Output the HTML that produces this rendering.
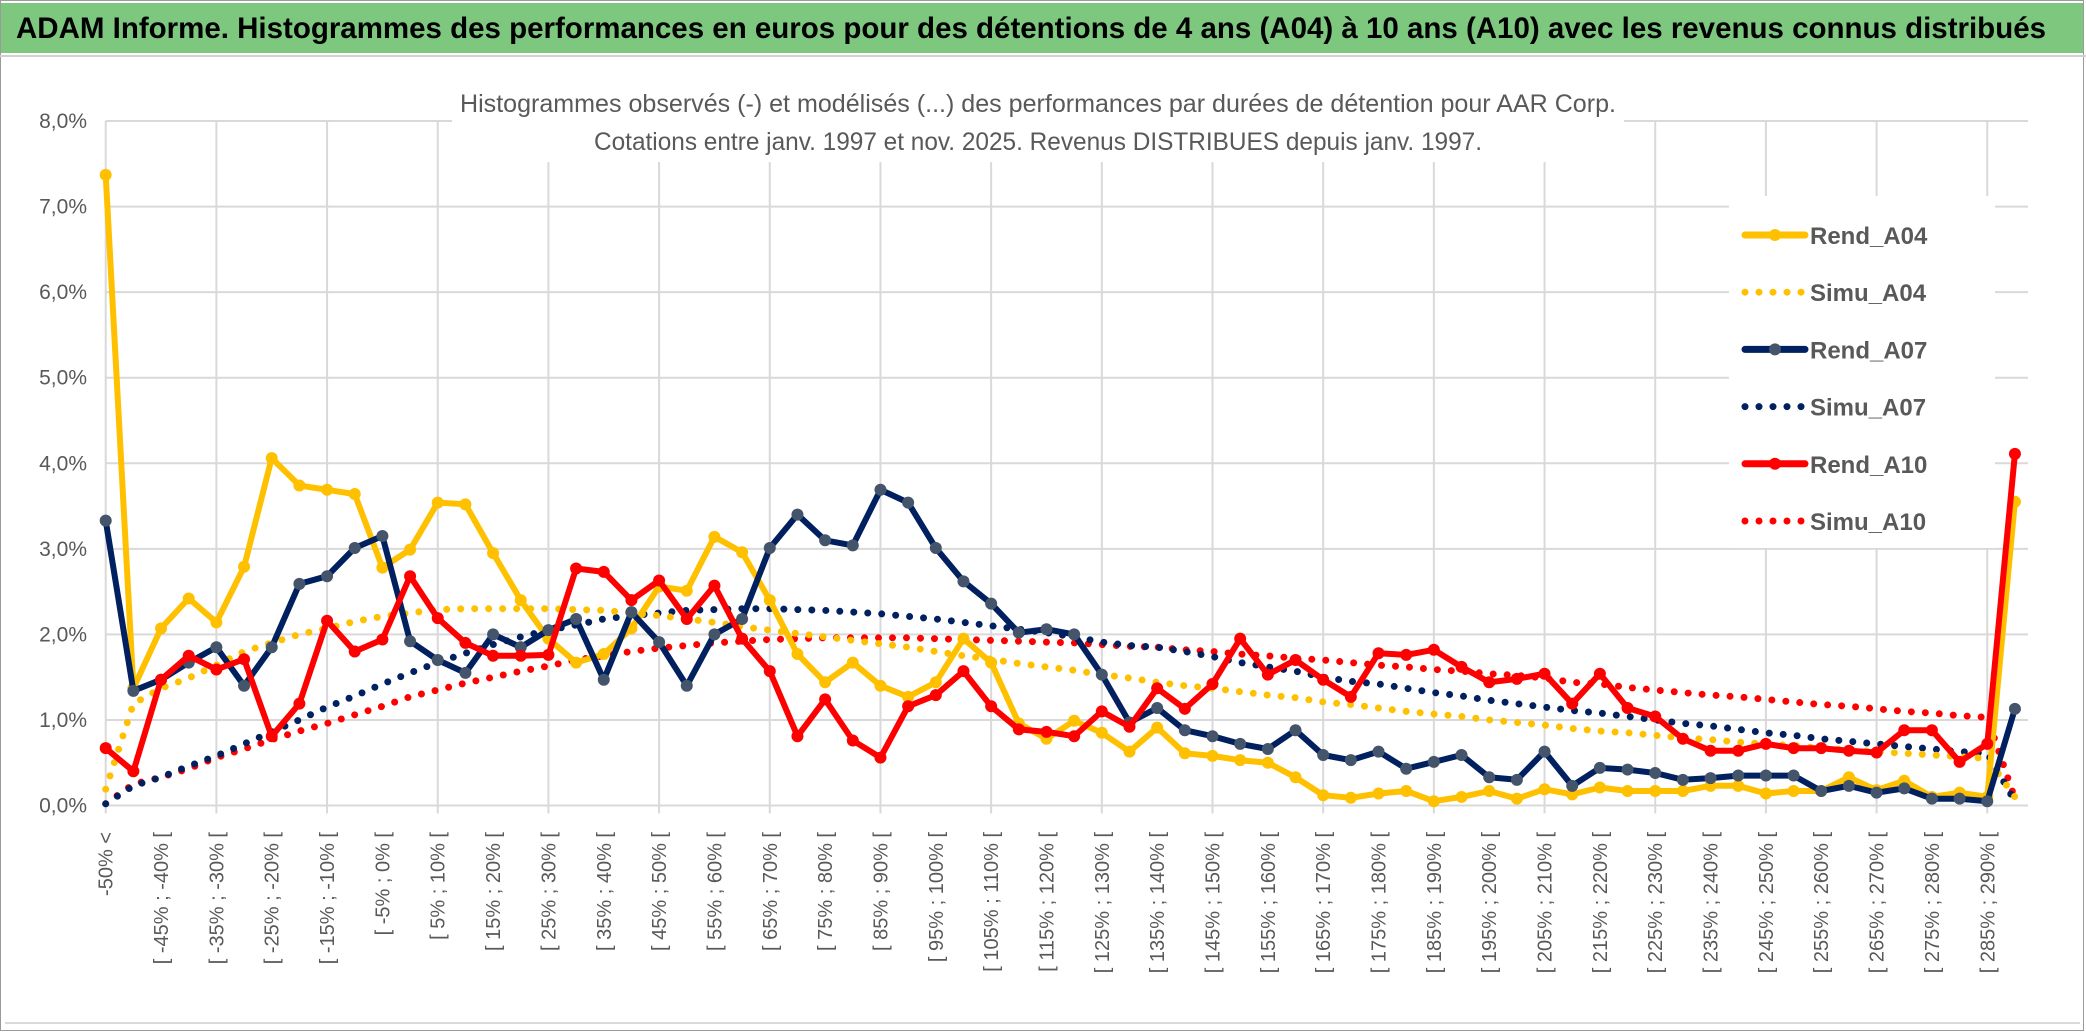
<!DOCTYPE html>
<html><head><meta charset="utf-8"><style>
html,body{margin:0;padding:0;background:#fff}
svg{display:block}
</style></head><body>
<svg id="chart" width="2086" height="1033" viewBox="0 0 2086 1033" xmlns="http://www.w3.org/2000/svg">
<rect x="0" y="0" width="2086" height="1033" fill="#fff"/>
<rect x="0.5" y="0.5" width="2083" height="1030" fill="none" stroke="#9a9a9a" stroke-width="1"/>
<rect x="1" y="3" width="2082" height="50" fill="#7dc77f"/>
<text x="16" y="38" font-family="'Liberation Sans Narrow','Liberation Sans',sans-serif" font-weight="bold" font-size="30" fill="#000" textLength="2030" lengthAdjust="spacingAndGlyphs">ADAM Informe. Histogrammes des performances en euros pour des détentions de 4 ans (A04) à 10 ans (A10) avec les revenus connus distribués</text>
<line x1="0" y1="56" x2="2086" y2="56" stroke="#d0d0d0" stroke-width="2"/>
<line x1="5" y1="1023" x2="2080" y2="1023" stroke="#d9d9d9" stroke-width="2"/>
<g id="grid"></g>
<g id="yaxis"></g>
<g id="xaxis"></g>
<rect x="452" y="84" width="1172" height="78" fill="#fff"/>
<text x="1038" y="112" text-anchor="middle" font-family="'Liberation Sans Narrow','Liberation Sans',sans-serif" font-size="25" fill="#595959" textLength="1156" lengthAdjust="spacingAndGlyphs">Histogrammes observés (-) et modélisés (...) des performances par durées de détention pour AAR Corp.</text>
<text x="1038" y="150" text-anchor="middle" font-family="'Liberation Sans Narrow','Liberation Sans',sans-serif" font-size="25" fill="#595959" textLength="888" lengthAdjust="spacingAndGlyphs">Cotations entre janv. 1997 et nov. 2025. Revenus DISTRIBUES depuis janv. 1997.</text>
<rect x="1729" y="196" width="266" height="352" fill="#fff"/>
<g id="series"></g>
<g id="legend"></g>
</svg>
<script>
const yTicks = [0,1,2,3,4,5,6,7,8];
const yTickLabels = ["0,0%","1,0%","2,0%","3,0%","4,0%","5,0%","6,0%","7,0%","8,0%"];
const categoryCount = 70;
const rendA04 = [7.37,1.37,2.07,2.42,2.14,2.79,4.06,3.74,3.69,3.64,2.78,2.99,3.54,3.52,2.95,2.40,1.95,1.67,1.77,2.07,2.56,2.51,3.14,2.96,2.40,1.77,1.44,1.67,1.40,1.27,1.44,1.95,1.67,0.96,0.78,0.99,0.85,0.63,0.91,0.61,0.58,0.53,0.50,0.33,0.12,0.09,0.14,0.17,0.05,0.10,0.17,0.08,0.19,0.13,0.21,0.17,0.17,0.17,0.23,0.23,0.14,0.17,0.17,0.33,0.18,0.29,0.10,0.15,0.10,3.55];
const simuA04 = [0.19,1.19,1.37,1.49,1.64,1.80,1.90,2.00,2.07,2.15,2.21,2.25,2.29,2.30,2.30,2.30,2.30,2.29,2.28,2.25,2.22,2.18,2.14,2.09,2.05,2.01,1.97,1.93,1.89,1.85,1.80,1.75,1.71,1.66,1.62,1.58,1.53,1.49,1.44,1.40,1.37,1.33,1.29,1.26,1.21,1.18,1.14,1.10,1.07,1.04,1.00,0.97,0.94,0.90,0.87,0.85,0.82,0.79,0.77,0.74,0.72,0.70,0.67,0.65,0.63,0.61,0.59,0.57,0.55,0.10];
const rendA07 = [3.33,1.34,1.47,1.67,1.85,1.40,1.85,2.59,2.68,3.01,3.15,1.92,1.70,1.55,2.00,1.85,2.05,2.18,1.47,2.26,1.91,1.40,2.00,2.18,3.01,3.40,3.10,3.04,3.69,3.54,3.01,2.62,2.36,2.02,2.06,2.00,1.53,0.97,1.14,0.88,0.81,0.72,0.66,0.88,0.59,0.53,0.63,0.43,0.51,0.59,0.33,0.30,0.63,0.23,0.44,0.42,0.38,0.30,0.32,0.35,0.35,0.35,0.17,0.23,0.15,0.20,0.08,0.08,0.05,1.13];
const simuA07 = [0.02,0.23,0.33,0.46,0.58,0.72,0.86,1.00,1.15,1.28,1.42,1.55,1.67,1.78,1.88,1.97,2.05,2.11,2.18,2.22,2.25,2.28,2.29,2.30,2.30,2.29,2.28,2.26,2.24,2.21,2.18,2.14,2.10,2.06,2.02,1.97,1.91,1.87,1.85,1.80,1.74,1.67,1.62,1.57,1.50,1.45,1.42,1.37,1.32,1.28,1.23,1.19,1.15,1.11,1.08,1.04,1.00,0.96,0.93,0.89,0.85,0.82,0.78,0.75,0.72,0.69,0.66,0.63,0.61,0.05];
const rendA10 = [0.67,0.40,1.47,1.75,1.59,1.71,0.81,1.19,2.16,1.80,1.94,2.68,2.19,1.90,1.75,1.75,1.76,2.77,2.73,2.40,2.63,2.18,2.57,1.95,1.57,0.81,1.24,0.76,0.56,1.16,1.29,1.57,1.16,0.89,0.86,0.81,1.10,0.92,1.37,1.13,1.42,1.95,1.53,1.70,1.47,1.27,1.78,1.76,1.82,1.62,1.44,1.48,1.54,1.19,1.54,1.14,1.04,0.78,0.64,0.64,0.72,0.67,0.67,0.64,0.62,0.88,0.88,0.51,0.72,4.11];
const simuA10 = [0.02,0.25,0.33,0.43,0.56,0.66,0.77,0.87,0.96,1.06,1.16,1.27,1.35,1.43,1.50,1.57,1.63,1.70,1.75,1.80,1.84,1.87,1.90,1.92,1.94,1.95,1.96,1.96,1.96,1.96,1.95,1.94,1.93,1.92,1.91,1.90,1.88,1.86,1.85,1.82,1.80,1.77,1.75,1.72,1.70,1.67,1.64,1.62,1.59,1.57,1.54,1.52,1.49,1.44,1.42,1.38,1.35,1.32,1.29,1.27,1.24,1.21,1.18,1.16,1.13,1.10,1.08,1.05,1.03,0.08];

const NS = "http://www.w3.org/2000/svg";
const X0 = 105.7, DX = 27.67, Y0 = 805.5, PX_PER = 85.56;
function xPos(i){ return X0 + i*DX; }
function yPos(v){ return Y0 - v*PX_PER; }
function catLabel(i){
  if(i===0) return "-50% <";
  const lo = -50 + (i-1)*5, hi = lo+5;
  return "[ " + lo + "% ; " + hi + "% [";
}
function mk(tag, attrs, parent){
  const el = document.createElementNS(NS, tag);
  for(const k in attrs) el.setAttribute(k, attrs[k]);
  parent.appendChild(el);
  return el;
}
const grid = document.getElementById('grid');
const yaxis = document.getElementById('yaxis');
const xaxis = document.getElementById('xaxis');
const series = document.getElementById('series');
const legend = document.getElementById('legend');
const xRight = 2028;
yTicks.forEach((t, k) => {
  const y = yPos(t);
  const ln = mk('line', {x1: X0, x2: xRight, y1: y, y2: y, stroke: '#d9d9d9', 'stroke-width': 2}, grid);
  
  
  const tx = mk('text', {x: 87, y: y + 7, 'text-anchor': 'end', 'font-family': "'Liberation Sans Narrow','Liberation Sans',sans-serif", 'font-size': 21, fill: '#595959'}, yaxis);
  tx.textContent = yTickLabels[k];
  
  
});
for(let i=0;i<categoryCount;i+=4){
  const x = xPos(i);
  const ln = mk('line', {x1: x, x2: x, y1: yPos(8), y2: Y0 + 8, stroke: '#d9d9d9', 'stroke-width': 2}, grid);
  
  
}
for(let i=0;i<categoryCount;i+=2){
  const x = xPos(i);
  const tx = mk('text', {x: 0, y: 0, transform: 'translate(' + (x+7) + ',832) rotate(-90)', 'text-anchor': 'end', 'font-family': "'Liberation Sans',sans-serif", 'font-size': 20, fill: '#595959'}, xaxis);
  tx.textContent = catLabel(i);
  
  
}
function drawSimu(vals, color, name){
  const pts = vals.map((v,i)=> xPos(i).toFixed(1)+','+yPos(v).toFixed(1)).join(' ');
  const pl = mk('polyline', {points: pts, fill: 'none', stroke: color, 'stroke-width': 7, 'stroke-linecap': 'round', 'stroke-dasharray': '0 14'}, series);
  
  
}
function drawRend(vals, color, marker, name){
  const pts = vals.map((v,i)=> xPos(i).toFixed(1)+','+yPos(v).toFixed(1)).join(' ');
  const pl = mk('polyline', {points: pts, fill: 'none', stroke: color, 'stroke-width': 6, 'stroke-linejoin': 'round'}, series);
  
  
  vals.forEach((v,i)=>{
    const c = mk('circle', {cx: xPos(i), cy: yPos(v), r: 6, fill: marker}, series);
    
    
  });
}
drawSimu(simuA10, '#ff0000', 'simu-a10-line');
drawSimu(simuA07, '#002060', 'simu-a07-line');
drawSimu(simuA04, '#ffc000', 'simu-a04-line');
drawRend(rendA04, '#ffc000', '#ffc000', 'rend-a04-line');
drawRend(rendA07, '#002060', '#44546a', 'rend-a07-line');
drawRend(rendA10, '#ff0000', '#ff0000', 'rend-a10-line');

const legendNames = ["Rend_A04","Simu_A04","Rend_A07","Simu_A07","Rend_A10","Simu_A10"];
const legendColors = ['#ffc000','#ffc000','#002060','#002060','#ff0000','#ff0000'];
const legendMarkers = ['#ffc000',null,'#44546a',null,'#ff0000',null];
legendNames.forEach((n,k)=>{
  const y = 235 + k*57.2;
  if(legendMarkers[k]){
    const l = mk('line', {x1: 1745, x2: 1805, y1: y, y2: y, stroke: legendColors[k], 'stroke-width': 7, 'stroke-linecap': 'round'}, legend);
    
    
    const c = mk('circle', {cx: 1775, cy: y, r: 6, fill: legendMarkers[k]}, legend);
    
    
  } else {
    const l = mk('line', {x1: 1745, x2: 1805, y1: y, y2: y, stroke: legendColors[k], 'stroke-width': 7, 'stroke-linecap': 'round', 'stroke-dasharray': '0 14'}, legend);
    
    
  }
  const t = mk('text', {x: 1810, y: y + 9, 'font-family': "'Liberation Sans',sans-serif", 'font-size': 24, 'font-weight': 'bold', fill: '#595959'}, legend);
  t.textContent = n;
  
  
});
</script>
</body></html>
